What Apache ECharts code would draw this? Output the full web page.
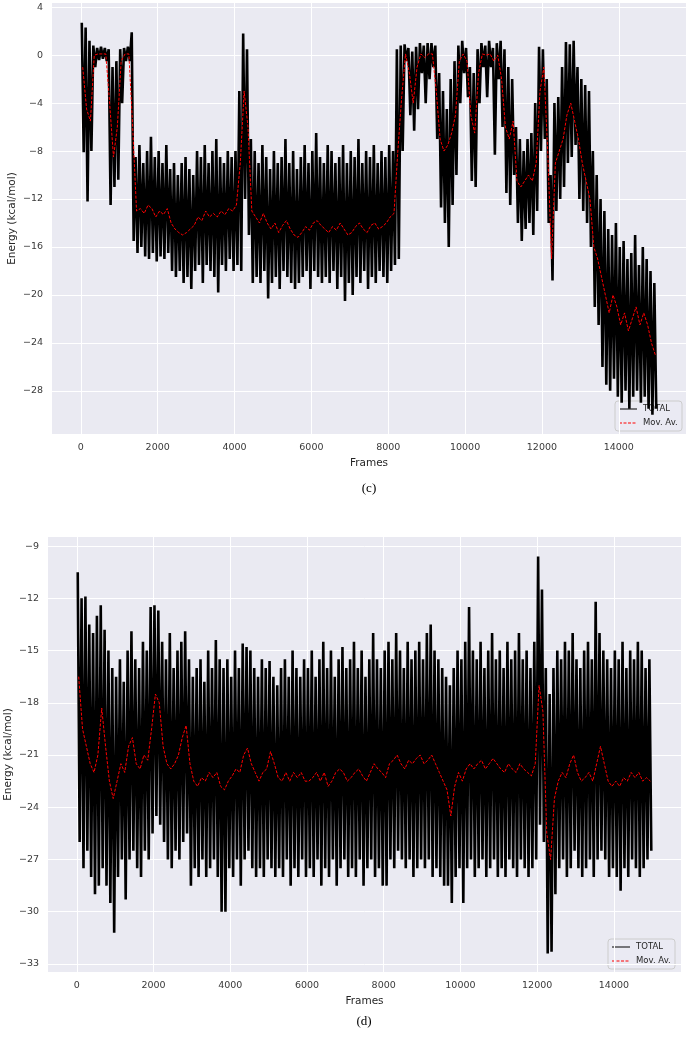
<!DOCTYPE html>
<html>
<head>
<meta charset="utf-8">
<style>
  html, body { margin: 0; padding: 0; background: #fff; }
  #chart { width: 688px; height: 1039px; }
</style>
<script src="https://cdn.jsdelivr.net/npm/echarts@6.0.0/dist/echarts.min.js"></script>
</head>
<body>
<div id="chart"></div>
<script>
// frames are grouped in bins of 100; for each bin: highest value, lowest value, moving average
var binSize = 100;

// panel (c)
var cHigh = [2.7, 2.3, 1.2, 0.8, 0.6, 0.7, 0.6, 0.5, -1.0, -0.5,
  0.5, 0.6, 0.7, 1.9, -8.5, -7.5, -9.0, -8.0, -6.8, -8.5,
  -8.0, -9.0, -7.5, -9.5, -9.0, -10.0, -9.0, -8.5, -9.5, -10.0,
  -8.0, -8.5, -7.5, -9.0, -8.0, -7.0, -8.5, -9.0, -8.0, -8.5,
  -8.0, -3.0, 1.8, 0.5, -7.0, -8.0, -9.0, -7.5, -8.5, -9.5,
  -8.0, -9.0, -8.5, -7.0, -9.0, -8.0, -9.5, -8.5, -7.5, -9.0,
  -8.0, -6.5, -8.5, -9.0, -7.5, -8.0, -9.0, -8.5, -7.5, -9.0,
  -8.0, -8.5, -7.0, -9.0, -8.0, -8.5, -7.5, -9.0, -8.0, -8.5,
  -7.5, -8.0, 0.5, 0.8, 0.9, 0.6, 0.3, 0.7, 1.0, 0.8,
  1.0, 1.0, 0.8, -1.5, -3.0, -4.5, -2.0, -0.5, 0.8, 1.2,
  0.6, -1.0, -1.5, 0.5, 1.0, 0.8, 1.2, 0.6, 1.0, 1.2,
  0.5, -1.0, -2.0, -6.0, -7.0, -8.0, -7.0, -6.5, -4.0, 0.7,
  0.5, -2.0, -10.0, -4.0, -3.5, -1.0, 1.1, 0.9, 1.2, -1.0,
  -2.0, -2.5, -3.0, -8.0, -10.0, -12.0, -13.0, -14.5, -15.0, -14.0,
  -16.0, -15.5, -17.0, -16.5, -15.0, -17.5, -16.0, -17.0, -18.0, -19.0];
var cLow = [-8.1, -12.2, -8.0, -1.0, -0.4, -0.3, -0.5, -12.5, -11.0, -10.4,
  -4.0, -0.5, -0.5, -15.5, -16.5, -16.0, -16.8, -17.0, -16.5, -17.2,
  -16.8, -17.0, -16.5, -18.0, -18.5, -18.0, -19.0, -18.5, -19.5, -18.0,
  -17.5, -19.0, -17.5, -18.0, -18.5, -19.8, -17.5, -18.0, -17.0, -18.0,
  -17.5, -18.0, -12.0, -15.0, -19.0, -18.5, -19.0, -18.0, -20.3, -19.0,
  -18.5, -19.5, -18.0, -18.5, -19.0, -19.5, -19.0, -18.5, -18.0, -19.5,
  -18.0, -18.5, -19.0, -18.5, -19.0, -18.0, -19.5, -18.5, -20.5, -19.0,
  -20.0, -18.5, -19.0, -18.0, -19.5, -18.5, -19.0, -18.0, -18.5, -19.0,
  -18.0, -17.5, -17.0, -8.0, -0.5, -5.0, -6.3, -4.5, -1.5, -4.0,
  -2.0, -1.0, -7.0, -12.7, -14.0, -16.0, -12.5, -10.0, -4.0, -1.5,
  -3.5, -10.5, -11.0, -4.0, -1.0, -3.5, -1.0, -8.3, -2.0, -6.0,
  -11.5, -12.5, -10.0, -14.0, -15.5, -14.5, -14.0, -15.0, -13.0, -8.0,
  -7.0, -14.0, -18.8, -13.0, -12.0, -11.0, -9.0, -8.5, -7.5, -12.0,
  -13.0, -14.0, -16.0, -21.0, -22.5, -26.0, -27.5, -28.0, -27.0, -28.5,
  -29.0, -28.0, -29.5, -28.5, -28.0, -29.0, -28.5, -29.5, -30.0, -29.5];
var cMov = [-1.0, -4.5, -5.5, 0.0, 0.1, 0.1, 0.1, -4.0, -8.5, -6.0,
  -0.5, 0.1, 0.1, -6.0, -13.0, -12.8, -13.2, -12.5, -12.8, -13.5,
  -13.0, -13.3, -12.8, -14.0, -14.5, -14.8, -15.0, -14.8, -14.5, -14.2,
  -13.5, -13.8, -13.0, -13.5, -13.2, -13.5, -13.0, -13.3, -12.8, -13.0,
  -12.5, -9.0, -3.0, -6.0, -13.0, -13.5, -14.0, -13.2, -14.0, -14.5,
  -14.0, -14.8, -14.2, -13.8, -14.5, -15.0, -15.2, -14.8, -14.3, -14.6,
  -14.0, -13.8, -14.2, -14.5, -14.8, -14.3, -14.6, -14.0, -14.5, -15.0,
  -14.8, -14.3, -14.0, -14.5, -14.8, -14.2, -14.0, -14.5, -14.3, -14.0,
  -13.5, -13.2, -8.0, -3.5, 0.1, -1.5, -4.0, -1.0, 0.1, -0.2,
  0.1, 0.1, -3.0, -7.0, -8.0, -7.5, -6.5, -5.0, -0.5, 0.1,
  -0.5, -5.0, -6.5, -1.5, 0.1, 0.0, 0.1, -0.5, 0.0, -2.0,
  -6.0, -7.0, -5.5, -10.5, -11.0, -10.5, -10.0, -10.5, -9.0, -3.0,
  -1.0, -8.0, -17.0, -9.0, -8.0, -7.0, -5.0, -4.0, -5.5, -7.0,
  -9.0, -10.5, -12.0, -16.0, -17.0, -18.5, -20.0, -21.5, -20.0, -21.0,
  -22.5, -21.5, -23.0, -22.0, -21.0, -22.5, -21.5, -22.5, -24.0, -25.0];

// panel (d)
var dHigh = [-10.5, -12.0, -11.9, -13.5, -14.0, -13.0, -12.4, -13.8, -15.0, -16.0,
  -16.5, -15.5, -16.8, -15.0, -13.9, -15.5, -16.0, -14.5, -15.0, -12.5,
  -12.4, -12.7, -14.5, -15.5, -14.0, -16.0, -15.0, -14.5, -13.9, -15.5,
  -16.5, -16.0, -15.5, -16.8, -15.0, -16.0, -14.4, -15.5, -16.0, -15.5,
  -16.5, -15.0, -16.0, -14.6, -14.8, -15.0, -16.0, -16.5, -15.5, -16.0,
  -15.6, -16.5, -17.0, -16.0, -15.5, -16.5, -15.0, -16.0, -16.5, -15.5,
  -16.0, -15.0, -16.5, -15.5, -14.5, -16.0, -15.0, -16.5, -15.5, -14.8,
  -16.0, -15.5, -14.5, -16.0, -15.0, -16.5, -15.5, -14.0, -15.5, -16.0,
  -15.0, -14.5, -15.5, -14.0, -15.0, -16.0, -14.5, -15.5, -15.0, -14.5,
  -15.5, -14.0, -13.5, -15.0, -15.5, -16.0, -16.5, -17.0, -16.0, -15.0,
  -15.5, -14.5, -12.5, -15.0, -15.5, -14.5, -16.0, -15.0, -14.0, -15.5,
  -15.0, -16.0, -14.5, -15.5, -15.0, -14.0, -15.5, -15.0, -16.0, -14.5,
  -9.6, -11.5, -16.0, -17.5, -16.0, -15.0, -15.5, -14.5, -15.0, -14.0,
  -15.5, -16.0, -15.0, -14.5, -15.5, -12.2, -14.0, -15.0, -15.5, -16.0,
  -15.0, -15.5, -14.5, -16.0, -15.0, -15.5, -14.5, -15.0, -16.0, -15.5];
var dLow = [-26.0, -27.5, -26.5, -28.0, -29.0, -28.5, -27.5, -28.5, -29.5, -31.2,
  -28.0, -27.0, -29.3, -27.0, -26.5, -27.5, -28.0, -26.5, -27.0, -25.5,
  -24.5, -25.0, -26.0, -27.0, -27.5, -26.5, -27.0, -26.0, -25.5, -28.5,
  -27.5, -28.0, -27.0, -28.0, -27.5, -27.0, -28.0, -30.0, -30.0, -27.5,
  -28.0, -27.0, -28.5, -27.0, -26.5, -27.5, -28.0, -27.5, -28.0, -27.0,
  -27.5, -28.0, -27.5, -28.0, -27.0, -28.5, -27.5, -28.0, -27.0, -28.0,
  -27.5, -28.0, -27.0, -28.5, -27.5, -28.0, -27.0, -28.5, -27.5, -27.0,
  -28.0, -27.5, -28.0, -27.0, -28.5, -27.5, -27.0, -28.0, -27.5, -28.5,
  -28.5, -27.0, -27.5, -26.5, -27.0, -27.5, -27.0, -28.0, -27.5, -27.0,
  -27.5, -27.0, -28.0, -27.5, -28.0, -28.5, -28.5, -29.5, -28.0, -27.5,
  -29.5, -27.5, -27.0, -28.0, -27.5, -27.0, -28.0, -27.5, -27.0, -28.0,
  -27.5, -28.0, -27.0, -27.5, -28.0, -27.0, -27.5, -28.0, -27.5, -27.0,
  -25.0, -26.0, -32.4, -32.3, -29.0, -27.5, -27.0, -28.0, -27.5, -26.5,
  -27.5, -28.0, -27.5, -27.0, -28.0, -27.0, -26.5, -27.0, -28.0, -27.5,
  -28.0, -28.8, -27.5, -28.0, -27.0, -27.5, -28.0, -27.5, -27.0, -26.5];
var dMov = [-16.5, -19.5, -20.5, -21.5, -22.0, -21.0, -18.3, -20.5, -22.5, -23.5,
  -22.5, -21.5, -22.0, -20.5, -20.0, -21.5, -21.8, -21.0, -21.3, -19.5,
  -17.5, -18.0, -20.5, -21.5, -21.8, -21.5, -21.0, -20.0, -19.3, -21.5,
  -22.5, -22.8, -22.3, -22.5, -22.0, -22.3, -22.0, -22.8, -23.0, -22.5,
  -22.2, -21.8, -22.0, -21.0, -20.6, -21.5, -22.0, -22.5, -22.0, -21.8,
  -20.8, -21.5, -22.3, -22.5, -22.0, -22.5, -22.0, -22.3, -22.0, -22.5,
  -22.5, -22.3, -22.0, -22.5, -22.0, -22.8, -22.5, -22.0, -21.8, -22.0,
  -22.5, -22.3, -22.0, -21.8, -22.2, -22.5, -22.0, -21.5, -21.8, -22.0,
  -22.3, -21.5, -21.3, -21.0, -21.5, -21.8, -21.3, -21.5, -21.2, -21.0,
  -21.5, -21.3, -21.0, -21.5, -22.0, -22.5, -23.0, -24.5, -22.8, -22.0,
  -22.5, -21.8, -21.5, -21.8, -21.5, -21.3, -21.8, -21.5, -21.2, -21.5,
  -21.8, -22.0, -21.5, -21.8, -22.0, -21.5, -21.8, -22.0, -22.2, -21.5,
  -17.0, -18.5, -25.5, -27.0, -23.5, -22.5, -22.0, -22.3, -21.5, -21.0,
  -22.0, -22.5, -22.3, -22.0, -22.5, -21.5, -20.5, -21.5, -22.5, -22.8,
  -22.5, -22.8, -22.3, -22.5, -22.0, -22.3, -22.0, -22.5, -22.3, -22.5];

var frameTicks = [0, 2000, 4000, 6000, 8000, 10000, 12000, 14000];
var cTicks = [-28, -24, -20, -16, -12, -8, -4, 0, 4];
var dTicks = [-33, -30, -27, -24, -21, -18, -15, -12, -9];
var legendNames = ['TOTAL', 'Mov. Av.'];

var FONT = 'DejaVu Sans';

function totalLine(hi, lo) {
  var pts = [];
  for (var i = 0; i < hi.length; i++) {
    pts.push([i * binSize + 25, hi[i]]);
    pts.push([i * binSize + 75, lo[i]]);
  }
  return pts;
}
function movLine(mv) {
  return mv.map(function (v, i) { return [i * binSize + 50, v]; });
}
function minus(v) { return String(v).replace('-', '\u2212'); }

function xAxisFor(gi) {
  return {
    type: 'value', gridIndex: gi, min: -750, max: 15749,
    name: 'Frames', nameLocation: 'middle', nameGap: 24,
    nameTextStyle: { fontSize: 10.5, color: '#262626', fontFamily: FONT },
    axisLine: { show: false },
    axisTick: { show: false, customValues: frameTicks },
    axisLabel: { customValues: frameTicks, fontSize: 9.5, color: '#3a3a3a', fontFamily: FONT, margin: 9,
      formatter: function (v) { return String(v); } },
    splitLine: { show: true, lineStyle: { color: '#ffffff', width: 1 } }
  };
}
function yAxisFor(gi, lo, hi, ticks, gap) {
  return {
    type: 'value', gridIndex: gi, min: lo, max: hi,
    name: 'Energy (kcal/mol)', nameLocation: 'middle', nameGap: gap, nameRotate: 90,
    nameMoveOverlap: false,
    nameTextStyle: { fontSize: 10.5, color: '#262626', fontFamily: FONT },
    axisLine: { show: false },
    axisTick: { show: false, customValues: ticks },
    axisLabel: { customValues: ticks, fontSize: 9.5, color: '#3a3a3a', fontFamily: FONT, margin: 9, formatter: minus },
    splitLine: { show: true, lineStyle: { color: '#ffffff', width: 1 } }
  };
}

// hand-drawn legend box (matplotlib style) at the lower right of a panel
function legendBox(x, y) {
  return {
    type: 'group', x: x, y: y, z: 100,
    children: [
      { type: 'rect', shape: { x: 0, y: 0, width: 67, height: 30, r: 3 },
        style: { fill: 'rgba(234,234,242,0.8)', stroke: '#cccccc', lineWidth: 1 } },
      { type: 'line', shape: { x1: 4, y1: 8, x2: 22, y2: 8 }, style: { stroke: '#000000', lineWidth: 1 } },
      { type: 'line', shape: { x1: 4, y1: 22, x2: 22, y2: 22 }, style: { stroke: '#ff0000', lineWidth: 1, lineDash: [3, 1.5] } },
      { type: 'text', x: 28, y: 8, style: { text: legendNames[0], fontSize: 8.5, fontFamily: FONT, fill: '#262626', verticalAlign: 'middle' } },
      { type: 'text', x: 28, y: 22, style: { text: legendNames[1], fontSize: 8.5, fontFamily: FONT, fill: '#262626', verticalAlign: 'middle' } }
    ]
  };
}

var chart = echarts.init(document.getElementById('chart'), null, { renderer: 'canvas' });
chart.setOption({
  animation: false,
  backgroundColor: '#ffffff',
  grid: [
    { left: 52, top: 3, width: 634, height: 431, show: true, backgroundColor: '#EAEAF2', borderWidth: 0,
      containLabel: false, outerBoundsMode: 'none' },
    { left: 48, top: 537, width: 633, height: 435, show: true, backgroundColor: '#EAEAF2', borderWidth: 0,
      containLabel: false, outerBoundsMode: 'none' }
  ],
  xAxis: [xAxisFor(0), xAxisFor(1)],
  yAxis: [
    yAxisFor(0, -31.6, 4.35, cTicks, 34),
    yAxisFor(1, -33.46, -8.48, dTicks, 34)
  ],
  series: [
    { name: legendNames[0], type: 'line', xAxisIndex: 0, yAxisIndex: 0, data: totalLine(cHigh, cLow),
      showSymbol: false, symbol: 'none', lineStyle: { color: '#000000', width: 2.6 }, itemStyle: { color: '#000000' } },
    { name: legendNames[1], type: 'line', xAxisIndex: 0, yAxisIndex: 0, data: movLine(cMov),
      showSymbol: false, symbol: 'none', lineStyle: { color: '#ff0000', width: 1, type: [3, 1.5] }, itemStyle: { color: '#ff0000' } },
    { name: legendNames[0], type: 'line', xAxisIndex: 1, yAxisIndex: 1, data: totalLine(dHigh, dLow),
      showSymbol: false, symbol: 'none', lineStyle: { color: '#000000', width: 2.6 }, itemStyle: { color: '#000000' } },
    { name: legendNames[1], type: 'line', xAxisIndex: 1, yAxisIndex: 1, data: movLine(dMov),
      showSymbol: false, symbol: 'none', lineStyle: { color: '#ff0000', width: 1, type: [3, 1.5] }, itemStyle: { color: '#ff0000' } }
  ],
  graphic: [
    legendBox(615, 401),
    legendBox(608, 939),
    { type: 'text', x: 369, y: 489, style: { text: '(c)', fontSize: 13, fontFamily: 'Liberation Serif', fill: '#000', align: 'center', verticalAlign: 'middle' } },
    { type: 'text', x: 364, y: 1022, style: { text: '(d)', fontSize: 13, fontFamily: 'Liberation Serif', fill: '#000', align: 'center', verticalAlign: 'middle' } }
  ]
});
</script>
</body>
</html>
